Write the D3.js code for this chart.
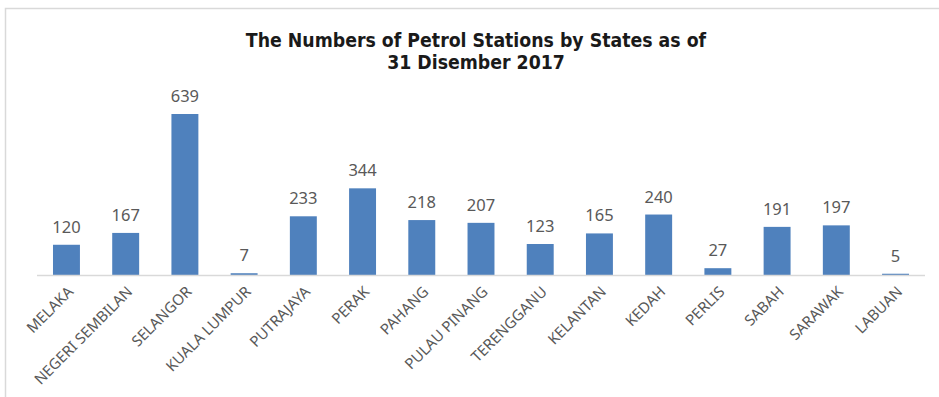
<!DOCTYPE html>
<html>
<head>
<meta charset="utf-8">
<script src="https://cdn.jsdelivr.net/npm/d3@7"></script>
<style>
  html, body { margin: 0; padding: 0; background: #fff; }
  svg { display: block; }
</style>
</head>
<body>
<svg id="chart" width="939" height="397"></svg>
<script>
// Petrol stations per state, 31 Dec 2017
const states = ["MELAKA", "NEGERI SEMBILAN", "SELANGOR", "KUALA LUMPUR", "PUTRAJAYA",
  "PERAK", "PAHANG", "PULAU PINANG", "TERENGGANU", "KELANTAN", "KEDAH", "PERLIS",
  "SABAH", "SARAWAK", "LABUAN"];
const stations = [120, 167, 639, 7, 233, 344, 218, 207, 123, 165, 240, 27, 191, 197, 5];
const titleLines = ["The Numbers of Petrol Stations by States as of", "31 Disember 2017"];

const svg = d3.select("#chart");
const font = "'Noto Sans', 'Open Sans', sans-serif";

// chart frame (cropped at right and bottom)
svg.append("path")
  .attr("d", "M5.5,397 L5.5,8.5 L939,8.5")
  .attr("fill", "none")
  .attr("stroke", "#d9d9d9")
  .attr("stroke-width", 1.5);

const x = d3.scaleBand().domain(states).range([37, 925]).paddingInner(0.545).paddingOuter(0.27);
const y = d3.scaleLinear().domain([0, 639]).range([275, 114]);

// title
svg.append("text")
  .attr("x", 476).attr("y", 47)
  .attr("text-anchor", "middle")
  .attr("font-family", "Tahoma, 'DejaVu Sans Condensed', 'DejaVu Sans', sans-serif")
  .attr("font-weight", "bold")
  .attr("font-size", 19.3)
  .attr("fill", "#1a1a1a")
  .selectAll("tspan").data(titleLines).join("tspan")
  .attr("x", 476).attr("dy", (d, i) => i === 0 ? 0 : 22)
  .text(d => d);

// bars
svg.append("g").selectAll("rect").data(states).join("rect")
  .attr("x", d => x(d))
  .attr("width", x.bandwidth())
  .attr("y", (d, i) => y(stations[i]))
  .attr("height", (d, i) => y(0) - y(stations[i]))
  .attr("fill", "#4f81bd");

// value labels
svg.append("g").selectAll("text").data(states).join("text")
  .attr("x", d => x(d) + x.bandwidth() / 2)
  .attr("y", (d, i) => y(stations[i]) - 12)
  .attr("text-anchor", "middle")
  .attr("font-family", font)
  .attr("font-size", 16.5)
  .attr("fill", "#595959")
  .text((d, i) => stations[i]);

// category axis
const axis = svg.append("g").attr("transform", "translate(0,275)")
  .call(d3.axisBottom(x).tickSize(0).tickSizeOuter(0));
axis.select(".domain").attr("stroke", "#d9d9d9").attr("stroke-width", 1.5)
  .attr("d", "M37,0.5H925");
axis.selectAll(".tick text")
  .attr("font-family", font)
  .attr("font-size", 15)
  .attr("fill", "#595959")
  .attr("text-anchor", "end")
  .attr("dy", "0.35em")
  .attr("transform", "translate(4,14) rotate(-45)")
  .attr("x", 0).attr("y", 0);
</script>
</body>
</html>
